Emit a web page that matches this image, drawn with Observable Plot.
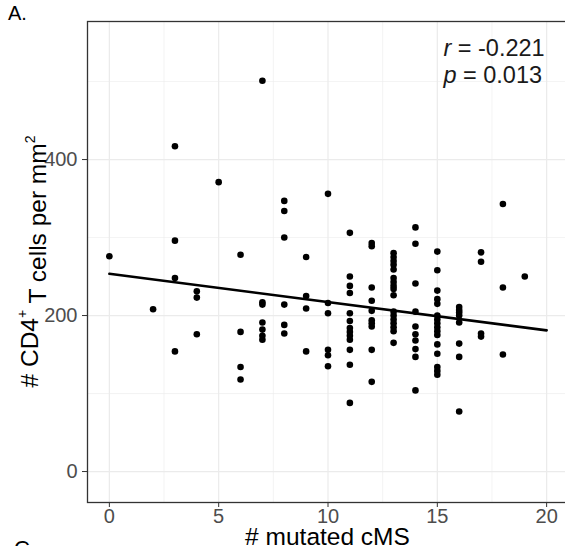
<!DOCTYPE html>
<html><head><meta charset="utf-8">
<script src="https://cdn.jsdelivr.net/npm/d3@7"></script>
<script src="https://cdn.jsdelivr.net/npm/@observablehq/plot@0.6"></script>
<style>
html,body{margin:0;padding:0;overflow:hidden;background:#fff;}
#chart{width:565px;height:546px;overflow:hidden;}
#chart svg{max-width:none !important;display:block;}
</style></head><body><div id="chart"></div>
<script>
// number of mutated cMS per sample
const mutatedCMS = [
  0,
  2,
  3,3,3,3,
  4,4,4,
  5,
  6,6,6,6,
  7,7,7,7,7,7,7,
  8,8,8,8,8,8,
  9,9,9,9,
  10,10,10,10,10,10,
  11,11,11,11,11,11,11,11,11,11,11,11,11,
  12,12,12,12,12,12,12,12,12,12,
  13,13,13,13,13,13,13,13,13,13,13,13,13,13,13,13,13,
  14,14,14,14,14,14,14,14,14,14,
  15,15,15,15,15,15,15,15,15,15,15,15,15,15,15,15,
  16,16,16,16,16,16,16,16,
  17,17,17,17,
  18,18,18,
  19
];
// CD4+ T cells per mm2
const cd4PerMm2 = [
  276,
  208,
  417,296,248,154,
  231,223,176,
  371,
  278,179,134,118,
  501,217,214,191,182,174,169,
  347,334,300,214,188,177,
  275,225,209,154,
  356,216,203,156,149,135,
  306,250,238,229,203,193,184,179,174,169,156,137,88,
  293,289,236,219,206,194,190,186,156,115,
  280,275,270,265,259,248,243,238,234,226,205,200,195,190,185,180,165,
  313,292,241,205,186,176,168,157,147,104,
  282,258,232,221,215,200,195,190,185,180,175,163,151,134,129,124,
  211,207,204,200,191,164,147,77,
  281,269,177,173,
  343,236,150,
  250
];
// fitted trend line as shown in the chart (read at its two ends)
const trendX = [0, 20];
const trendY = [253.5, 181];

const xTicks = [0, 5, 10, 15, 20];
const xMinor = [2.5, 7.5, 12.5, 17.5];
const yTicks = [0, 200, 400];
const yMinor = [100, 300, 500];
const statR = "-0.221";
const statP = "0.013";
const xTitle = "# mutated cMS";
const panelTag = "A.";
const nextTag = "C.";

const FONT = "'Liberation Sans', Arial, Helvetica, sans-serif";
const data = mutatedCMS.map((x, i) => ({x, y: cd4PerMm2[i]}));
const trend = trendX.map((x, i) => ({x, y: trendY[i]}));

const plot = Plot.plot({
  width: 568, height: 546,
  marginLeft: 87, marginRight: 0, marginTop: 21, marginBottom: 44,
  style: {fontFamily: FONT, background: "white"},
  x: {domain: [-1, 21]},
  y: {domain: [-39.7, 577]},
  marks: [
    Plot.gridX(xMinor, {stroke: "#ebebeb", strokeOpacity: 1, strokeWidth: 0.6}),
    Plot.gridY(yMinor, {stroke: "#ebebeb", strokeOpacity: 1, strokeWidth: 0.6}),
    Plot.gridX(xTicks, {stroke: "#ebebeb", strokeOpacity: 1, strokeWidth: 1.2}),
    Plot.gridY(yTicks, {stroke: "#ebebeb", strokeOpacity: 1, strokeWidth: 1.2}),
    Plot.dot(data, {x: "x", y: "y", r: 3.3, fill: "black"}),
    Plot.line(trend, {x: "x", y: "y", stroke: "black", strokeWidth: 2.6}),
    Plot.frame({stroke: "#333333", strokeWidth: 1.3}),
    Plot.axisX(xTicks, {tickSize: 5, tickPadding: 1, fontSize: 20, color: "#333333", label: null}),
    Plot.axisY(yTicks, {tickSize: 5, tickPadding: 5, fontSize: 20, color: "#333333", textAnchor: "end", label: null})
  ]
});
plot.style.maxWidth = "none";

const svg = d3.select(plot);
svg.selectAll('g[aria-label="x-axis tick label"], g[aria-label="y-axis tick label"]').attr("fill", "#4d4d4d");
svg.selectAll('g[aria-label="x-axis tick label"] text, g[aria-label="y-axis tick label"] text').attr("fill", "#4d4d4d");

const sx = plot.scale("x"), sy = plot.scale("y");
const panelLeft = 87, panelRight = 568, panelTop = 21, panelBottom = 502;

// stats annotation
const st = svg.append("g").attr("font-family", FONT).attr("font-size", 23.5)
  .attr("fill", "#1a1a1a").attr("text-anchor", "start");
const t1 = st.append("text").attr("x", sx.apply(15.3)).attr("y", sy.apply(532));
t1.append("tspan").attr("font-style", "italic").text("r");
t1.append("tspan").text(" = " + statR);
const t2 = st.append("text").attr("x", sx.apply(15.3)).attr("y", sy.apply(497));
t2.append("tspan").attr("font-style", "italic").text("p");
t2.append("tspan").text(" = " + statP);

// axis titles
svg.append("text").attr("font-family", FONT).attr("font-size", 24.5).attr("fill", "black")
  .attr("text-anchor", "middle").attr("x", (panelLeft + panelRight) / 2).attr("y", 545).text(xTitle);

const yt = svg.append("text").attr("font-family", FONT).attr("font-size", 24.5).attr("fill", "black")
  .attr("text-anchor", "middle")
  .attr("transform", `translate(38,${(panelTop + panelBottom) / 2}) rotate(-90)`);
yt.append("tspan").text("# CD4");
yt.append("tspan").attr("font-size", 14).attr("dy", "-0.8em").text("+");
yt.append("tspan").attr("dy", "0.8em").text(" T cells per mm");
yt.append("tspan").attr("font-size", 14).attr("dy", "-0.8em").text("2");

// panel tags
svg.append("text").attr("font-family", FONT).attr("font-size", 20).attr("fill", "black")
  .attr("text-anchor", "start").attr("x", 8).attr("y", 20).text(panelTag);
svg.append("text").attr("font-family", FONT).attr("font-size", 22).attr("fill", "black")
  .attr("text-anchor", "start").attr("x", 14).attr("y", 556).text(nextTag);

document.getElementById("chart").appendChild(plot);
</script>
</body></html>
